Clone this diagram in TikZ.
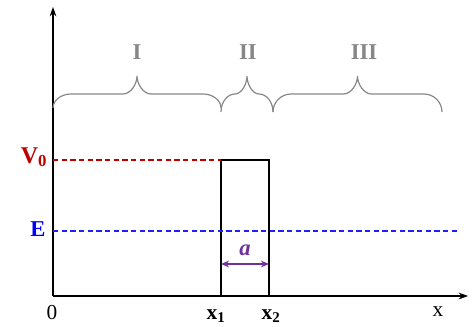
\documentclass[tikz,border=0pt]{standalone}
\usepackage{fontspec}
\setmainfont{Liberation Serif}
\usetikzlibrary{arrows.meta, positioning}
\definecolor{barred}{RGB}{192, 0, 0}
\definecolor{energyblue}{RGB}{0, 0, 255}
\definecolor{dashblue}{RGB}{30, 30, 255}
\definecolor{widthpurple}{RGB}{112, 48, 160}
\definecolor{regiongray}{RGB}{135, 135, 135}

% curly brace over a region: left x, right x, end y, end radius, tip radius
\newcommand{\regionbrace}[5]{%
  \pgfmathsetmacro{\bmid}{(#1+#2)/2}
  \draw[region] (#1,#3) .. controls (#1,{94+0.45*(#3-94)}) and ({#1+0.45*#4},94) .. ({#1+#4},94)
    -- ({\bmid-#5},94) .. controls ({\bmid-0.45*#5},94) and (\bmid,84) .. (\bmid,76)
    .. controls (\bmid,84) and ({\bmid+0.45*#5},94) .. ({\bmid+#5},94)
    -- ({#2-#4},94) .. controls ({#2-0.45*#4},94) and (#2,{94+0.45*(#3-94)}) .. (#2,#3);}

\begin{document}
\begin{tikzpicture}[x=0.75pt, y=-0.75pt,
    axis/.style={line width=0.9pt, -{Stealth[length=7pt,width=5pt]}},
    potential/.style={line width=1.6pt},
    level/.style={line width=0.8pt, dash pattern=on 4pt off 2.5pt},
    region/.style={regiongray, line width=0.9pt},
    regionlabel/.style={regiongray, font=\fontsize{17}{17}\selectfont\bfseries},
    ticklabel/.style={font=\fontsize{16}{16}\selectfont}]
\useasboundingbox (0,0) rectangle (472,326);

% axes
\coordinate (origin) at (53,296);
\coordinate (yend) at (53,7);
\coordinate (xend) at (468,296);
\draw[axis] (origin) -- (yend);
\draw[axis] (origin) -- (xend);

% barrier
\coordinate (xone) at (221,296);
\coordinate (xtwo) at (269,296);
\coordinate (topone) at (221,160);
\coordinate (toptwo) at (269,160);
\coordinate (flatend) at (458,296);
\draw[potential] (origin) -- (xone) -- (topone) -- (toptwo) -- (xtwo) -- (flatend);

% levels
\coordinate (vleft) at (53,160);
\coordinate (eleft) at (53,231);
\coordinate (eright) at (458,231);
\draw[level, barred] (vleft) -- (topone);
\draw[level, dashblue] (eleft) -- (eright);
\node[barred, font=\fontsize{18}{18}\selectfont\bfseries] (vzero) at (34,157) {V\textsubscript{0}};
\node[energyblue, font=\fontsize{17}{17}\selectfont\bfseries] (elabel) at (38,229) {E};

% width a
\coordinate (aleft) at (221,264);
\coordinate (aright) at (269,264);
\draw[widthpurple, line width=0.9pt, {Stealth[length=6pt,width=5pt]}-{Stealth[length=6pt,width=5pt]}] (aleft) -- (aright);
\node[widthpurple, font=\fontsize{17}{17}\selectfont\bfseries\itshape] (alabel) at (245,250) {a};

% axis labels
\node[ticklabel] (zero) at (52,313) {0};
\node[ticklabel, font=\fontsize{16}{16}\selectfont\bfseries] (xonelabel) at (216,316) {x\textsubscript{1}};
\node[ticklabel, font=\fontsize{16}{16}\selectfont\bfseries] (xtwolabel) at (271,316) {x\textsubscript{2}};
\node[ticklabel] (xlabel) at (438,312) {x};

% regions
\regionbrace{53}{221}{108}{18}{14}
\regionbrace{221}{273}{112}{14}{12}
\regionbrace{273}{442}{112}{18}{14}
\node[regionlabel] (rone) at (137,52) {I};
\node[regionlabel] (rtwo) at (248,52) {II};
\node[regionlabel] (rthree) at (364,52) {III};
\end{tikzpicture}
\end{document}
